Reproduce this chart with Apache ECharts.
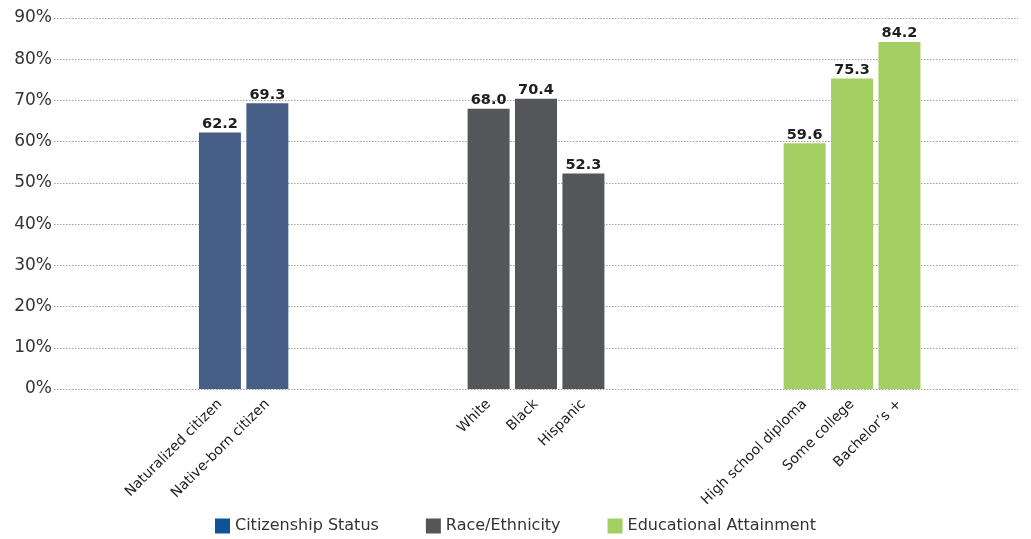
<!DOCTYPE html>
<html>
<head>
<meta charset="utf-8">
<script src="https://cdn.jsdelivr.net/npm/echarts@6/dist/echarts.min.js"></script>
<style>
html,body{margin:0;padding:0;background:#fff;}
#chart{width:1031px;height:539px;}
</style>
</head>
<body>
<div id="chart"></div>
<script>
// Categories (groups) and their values
const citizenshipCats = ['Naturalized citizen', 'Native-born citizen'];
const citizenshipVals = [62.2, 69.3];
const raceCats = ['White', 'Black', 'Hispanic'];
const raceVals = [68.0, 70.4, 52.3];
const eduCats = ['High school diploma', 'Some college', 'Bachelor\u2019s +'];
const eduVals = [59.6, 75.3, 84.2];
const seriesNames = ['Citizenship Status', 'Race/Ethnicity', 'Educational Attainment'];
const yTicks = [0, 10, 20, 30, 40, 50, 60, 70, 80, 90];

// Build a spaced category axis (blank slots separate the bars and groups)
const leadBlanks = 10, inGroupStep = 3, groupGapStep = 14, totalSlots = 61;
const categories = new Array(totalSlots).fill('');
const groups = [citizenshipCats, raceCats, eduCats];
const groupVals = [citizenshipVals, raceVals, eduVals];
const seriesData = [new Array(totalSlots).fill(null), new Array(totalSlots).fill(null), new Array(totalSlots).fill(null)];
let idx = leadBlanks;
groups.forEach((cats, g) => {
  cats.forEach((c, i) => {
    categories[idx] = c;
    seriesData[g][idx] = groupVals[g][i];
    if (i < cats.length - 1) idx += inGroupStep;
  });
  idx += groupGapStep;
});

const barColors = ['#475e87', '#555659', '#a3cf62'];
const legendColors = ['#0e5298', '#555659', '#a3cf62'];
const FONT = '"DejaVu Sans", sans-serif';

const chart = echarts.init(document.getElementById('chart'), null, {renderer: 'canvas'});
chart.setOption({
  animation: false,
  backgroundColor: '#ffffff',
  grid: {left: 54, right: 13, top: 18, bottom: 150, containLabel: false},
  legend: {
    bottom: 0,
    left: 'center',
    itemWidth: 15,
    itemHeight: 15,
    itemGap: 47,
    icon: 'rect',
    textStyle: {fontFamily: FONT, fontSize: 16, color: '#333'},
    data: seriesNames.map((n, i) => ({name: n, itemStyle: {color: legendColors[i]}}))
  },
  xAxis: {
    type: 'category',
    data: categories,
    axisLine: {show: false},
    axisTick: {show: false},
    axisLabel: {
      interval: 0,
      rotate: 45,
      margin: 13,
      fontFamily: FONT,
      fontSize: 14,
      color: '#222'
    }
  },
  yAxis: {
    type: 'value',
    min: yTicks[0],
    max: yTicks[yTicks.length - 1],
    interval: 10,
    axisLine: {show: false},
    axisTick: {show: false},
    axisLabel: {
      formatter: '{value}%',
      margin: 2,
      fontFamily: FONT,
      fontSize: 17,
      color: '#333'
    },
    splitLine: {lineStyle: {type: [1.5, 1.5], color: '#a0a0a0', width: 1}}
  },
  series: seriesNames.map((n, g) => ({
    name: n,
    type: 'bar',
    data: seriesData[g],
    barWidth: 42,
    barGap: '-100%',
    itemStyle: {color: barColors[g]},
    label: {
      show: true,
      position: 'top',
      distance: 1,
      formatter: p => p.value == null ? '' : p.value.toFixed(1),
      fontFamily: FONT,
      fontSize: 14.5,
      fontWeight: 'bold',
      color: '#1e1e1e'
    }
  }))
});
</script>
</body>
</html>
